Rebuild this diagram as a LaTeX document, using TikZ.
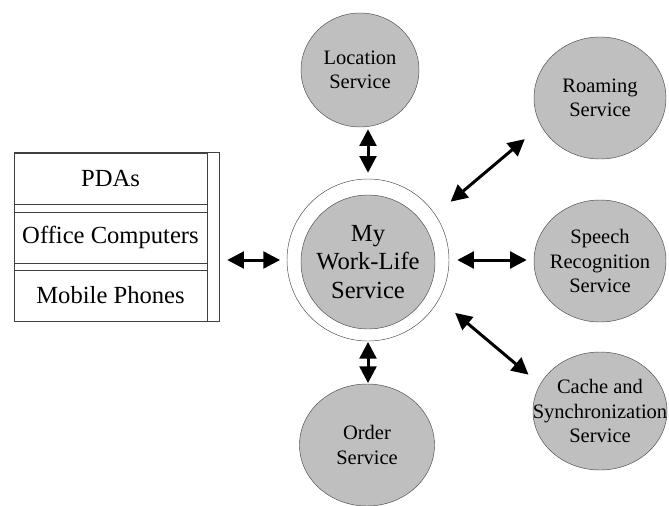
\documentclass[tikz,border=0pt]{standalone}
\usepackage{fontspec}
\setmainfont{Liberation Serif}
\usetikzlibrary{positioning, calc, shapes.geometric, arrows.meta}

\begin{document}
\begin{tikzpicture}[x=0.03cm, y=-0.03cm,
    every node/.style={font=\fontsize{21}{24}\selectfont},
    row/.style={rectangle, draw=black!75, minimum width=5.79cm, minimum height=1.54cm, inner sep=0pt},
    svc/.style={ellipse, draw=black!70, fill=gray!50, minimum width=3.96cm, minimum height=3.66cm, inner sep=0pt},
    svctext/.style={align=center, font=\fontsize{17.5}{21}\selectfont},
    link/.style={{Triangle[length=0.5cm,width=0.5cm]}-{Triangle[length=0.5cm,width=0.5cm]}, line width=0.09cm}]
    \useasboundingbox (0,0) rectangle (669,506);

    \node[rectangle, draw=black!75, minimum width=6.15cm, minimum height=5.07cm, inner sep=0pt] (stack) at (116.5,236.5) {};
    \node[row] (pda) at (110.5,178.5) {PDAs};
    \node[row] (office) at (110.5,237.5) {Office Computers};
    \node[row] (phone) at (110.5,295.5) {Mobile Phones};
    \draw[black!75] (pda.north east) -- (phone.south east);

    \node[circle, draw=black!70, minimum size=4.86cm, inner sep=0pt] (hub) at (368,260) {};
    \node[circle, draw=black!70, fill=gray!50, minimum size=4.02cm, inner sep=0pt, align=center] (core) at (368,262) {My\\Work-Life\\Service};

    \node[svc, minimum width=3.54cm, minimum height=3.42cm, label={[svctext]center:{Location\\Service}}] (loc) at (360,70) {};
    \node[svc, label={[svctext]center:{Roaming\\Service}}] (roam) at (600,98) {};
    \node[svc, label={[svctext]center:{Speech\\Recognition\\Service}}] (speech) at (600,261) {};
    \node[svc, minimum width=4.02cm, minimum height=3.54cm, label={[svctext]center:{Cache and\\Synchronization\\Service}}] (cache) at (600,411) {};
    \node[svc, minimum width=4.05cm, label={[svctext]center:{Order\\Service}}] (order) at (367,445) {};

    \draw[link, shorten <=0.24cm, shorten >=0.2cm] (stack.east |- hub) -- (hub.west);
    \draw[link, shorten <=0.06cm, shorten >=0.18cm] (hub.north |- loc.south) -- (hub.north);
    \draw[link, shorten <=0.02cm, shorten >=0.02cm] (hub.south) -- (hub.south |- order.north);
    \draw[link, shorten <=0.24cm, shorten >=0.21cm] (hub.east) -- (hub.east -| speech.west);
    \draw[link, shorten <=0.6cm, shorten >=0.63cm] (hub.34) -- (roam.205);
    \draw[link, shorten <=0.63cm, shorten >=0.45cm] (hub.-29) -- (cache.156);
\end{tikzpicture}
\end{document}
